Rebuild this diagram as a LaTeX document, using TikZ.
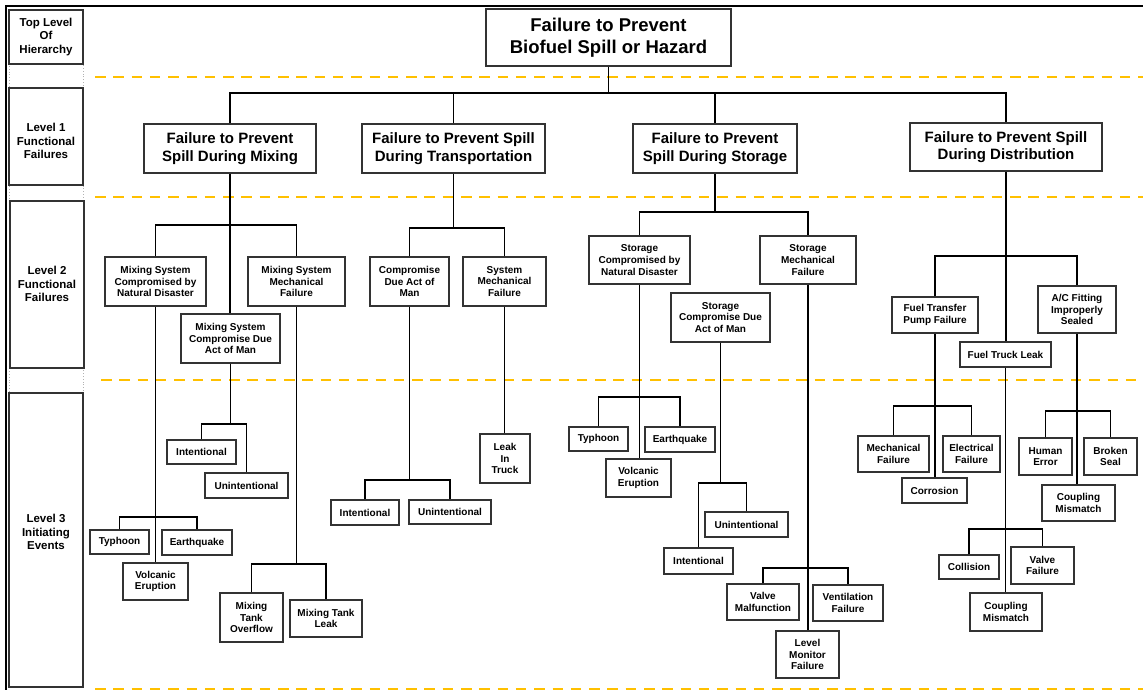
\documentclass[tikz,border=0pt]{standalone}
\usepackage{fontspec}
\setmainfont{Liberation Sans}
\definecolor{gold}{HTML}{FFC000}
\tikzset{
  box/.style={draw=black!80, line width=1.3pt, fill=white, inner sep=0pt, align=center,
    font=\bfseries\fontsize{10}{11.6}\selectfont},
  lonebox/.style={box, font=\bfseries\fontsize{15}{17.5}\selectfont},
  rootbox/.style={box, font=\bfseries\fontsize{18.5}{22.5}\selectfont},
  sidebox/.style={draw=black!80, line width=1.4pt, fill=white, inner sep=0pt},
  sidetext/.style={inner sep=0pt, align=center, font=\bfseries\fontsize{11.5}{13.6}\selectfont},
  conn/.style={draw=black, line width=1.3pt},
  guide/.style={draw=gold, line width=2.7pt, dash pattern=on 10.5pt off 7.8pt},
}
\newcommand\nb[7]{\node[#1, minimum width={#5-#3}, minimum height={#6-#4}] (#2) at ({(#3+#5)/2},{(#4+#6)/2}) {#7};}
\begin{document}
\begin{tikzpicture}[x=1pt,y=-1pt]
\useasboundingbox (0,0) rectangle (1143,690);
% frame
\draw[line width=2pt] (5.5,690) -- (5.5,6.5) -- (1143,6.5);
% guides
\draw[guide] (95,77) -- (1143,77);
\draw[guide] (95,197) -- (1143,197);
\draw[guide] (101,380) -- (1143,380);
\draw[guide] (95,689) -- (1143,689);
% side column
\draw[black!30, dotted, line width=0.8pt] (9,10) rectangle (83,687);
\nb{sidebox}{s0}{9}{10}{83}{64}{}
\nb{sidebox}{s1}{9}{88}{83}{185}{}
\nb{sidebox}{s2}{10}{201}{84}{368}{}
\nb{sidebox}{s3}{9}{393}{83}{687}{}
\node[sidetext] (s0t) at (46,37) {Top Level\\Of\\Hierarchy};
\node[sidetext] (s1t) at (46,141) {Level 1\\Functional\\Failures};
\node[sidetext] (s2t) at (47,284) {Level 2\\Functional\\Failures};
\node[sidetext] (s3t) at (46,532) {Level 3\\Initiating\\Events};
% root and level 1
\nb{rootbox}{root}{486}{9}{731}{66}{Failure to Prevent\\Biofuel Spill or Hazard}
\nb{lonebox}{mix}{144}{124}{316}{173}{Failure to Prevent\\Spill During Mixing}
\nb{lonebox}{trans}{362}{124}{545}{173}{Failure to Prevent Spill\\During Transportation}
\nb{lonebox}{stor}{633}{124}{797}{173}{Failure to Prevent\\Spill During Storage}
\nb{lonebox}{dist}{910}{123}{1102}{171}{Failure to Prevent Spill\\During Distribution}
% mixing subtree
\nb{box}{mixnd}{105}{257}{206}{306}{Mixing System\\Compromised by\\Natural Disaster}
\nb{box}{mixmech}{248}{257}{345}{306}{Mixing System\\Mechanical\\Failure}
\nb{box}{mixman}{181}{314}{280}{363}{Mixing System\\Compromise Due\\Act of Man}
\nb{box}{mty}{90}{530}{149}{554}{Typhoon}
\nb{box}{meq}{162}{530}{232}{555}{Earthquake}
\nb{box}{mvol}{123}{563}{188}{600}{Volcanic\\Eruption}
\nb{box}{mint}{167}{440}{236}{464}{Intentional}
\nb{box}{munint}{205}{473}{288}{498}{Unintentional}
\nb{box}{mover}{220}{593}{283}{642}{Mixing\\Tank\\Overflow}
\nb{box}{mleak}{290}{600}{362}{637}{Mixing Tank\\Leak}
% transportation subtree
\nb{box}{tcom}{370}{257}{449}{306}{Compromise\\Due Act of\\Man}
\nb{box}{tsys}{463}{257}{546}{306}{System\\Mechanical\\Failure}
\nb{box}{tint}{331}{500}{399}{525}{Intentional}
\nb{box}{tunint}{409}{500}{491}{524}{Unintentional}
\nb{box}{tleak}{480}{434}{530}{483}{Leak\\In\\Truck}
% storage subtree
\nb{box}{snd}{589}{236}{690}{284}{Storage\\Compromised by\\Natural Disaster}
\nb{box}{smech}{760}{236}{856}{284}{Storage\\Mechanical\\Failure}
\nb{box}{sman}{671}{293}{770}{342}{Storage\\Compromise Due\\Act of Man}
\nb{box}{sty}{569}{427}{628}{451}{Typhoon}
\nb{box}{seq}{645}{427}{715}{452}{Earthquake}
\nb{box}{svol}{606}{459}{671}{497}{Volcanic\\Eruption}
\nb{box}{sint}{664}{548}{733}{574}{Intentional}
\nb{box}{sunint}{705}{512}{788}{537}{Unintentional}
\nb{box}{svalve}{727}{584}{799}{620}{Valve\\Malfunction}
\nb{box}{svent}{813}{585}{883}{621}{Ventilation\\Failure}
\nb{box}{slevel}{776}{631}{839}{678}{Level\\Monitor\\Failure}
% distribution subtree
\nb{box}{dftp}{892}{297}{978}{333}{Fuel Transfer\\Pump Failure}
\nb{box}{dac}{1038}{286}{1116}{333}{A/C Fitting\\Improperly\\Sealed}
\nb{box}{dftl}{960}{342}{1051}{367}{Fuel Truck Leak}
\nb{box}{dmech}{858}{436}{929}{472}{Mechanical\\Failure}
\nb{box}{delec}{943}{436}{1000}{472}{Electrical\\Failure}
\nb{box}{dcorr}{902}{478}{967}{503}{Corrosion}
\nb{box}{dhum}{1019}{438}{1072}{475}{Human\\Error}
\nb{box}{dbro}{1084}{438}{1137}{475}{Broken\\Seal}
\nb{box}{dcoupa}{1042}{485}{1115}{521}{Coupling\\Mismatch}
\nb{box}{dcoll}{939}{555}{999}{579}{Collision}
\nb{box}{dvalve}{1011}{547}{1074}{584}{Valve\\Failure}
\nb{box}{dcoupb}{970}{593}{1042}{631}{Coupling\\Mismatch}
% bar levels
\coordinate (y0) at (0,93);
\coordinate (ymix) at (0,225);
\coordinate (ymnd) at (0,517);
\coordinate (ymman) at (0,424);
\coordinate (ymmech) at (0,564);
\coordinate (ytr) at (0,228);
\coordinate (ytcom) at (0,480);
\coordinate (yst) at (0,212);
\coordinate (ysnd) at (0,397);
\coordinate (ysman) at (0,483);
\coordinate (ysmech) at (0,568);
\coordinate (ydi) at (0,256);
\coordinate (ydftp) at (0,406);
\coordinate (ydac) at (0,411);
\coordinate (ydftl) at (0,529);
% connectors: root
\draw[conn] (root.south) -- (root.south |- y0);
\draw[conn] (mix.north) -- (mix.north |- y0) -- (dist.north |- y0) -- (dist.north);
\draw[conn] (trans.north) -- (trans.north |- y0);
\draw[conn] (stor.north) -- (stor.north |- y0);
% mixing
\draw[conn] (mix.south) -- (mix.south |- mixman.north);
\draw[conn] (mixnd.north) -- (mixnd.north |- ymix) -- (mixmech.north |- ymix) -- (mixmech.north);
\draw[conn] (mixnd.south) -- (mixnd.south |- mvol.north);
\draw[conn] (mty.north) -- (mty.north |- ymnd) -- (meq.north |- ymnd) -- (meq.north);
\draw[conn] (mixman.south) -- (mixman.south |- ymman);
\draw[conn] (mint.north) -- (mint.north |- ymman) -- (munint.north |- ymman) -- (munint.north);
\draw[conn] (mixmech.south) -- (mixmech.south |- ymmech);
\draw[conn] (mover.north) -- (mover.north |- ymmech) -- (mleak.north |- ymmech) -- (mleak.north);
% transportation
\draw[conn] (trans.south) -- (trans.south |- ytr);
\draw[conn] (tcom.north) -- (tcom.north |- ytr) -- (tsys.north |- ytr) -- (tsys.north);
\draw[conn] (tcom.south) -- (tcom.south |- ytcom);
\draw[conn] (tint.north) -- (tint.north |- ytcom) -- (tunint.north |- ytcom) -- (tunint.north);
\draw[conn] (tsys.south) -- (tsys.south |- tleak.north);
% storage
\draw[conn] (stor.south) -- (stor.south |- yst);
\draw[conn] (snd.north) -- (snd.north |- yst) -- (smech.north |- yst) -- (smech.north);
\draw[conn] (snd.south) -- (snd.south |- svol.north);
\draw[conn] (sty.north) -- (sty.north |- ysnd) -- (seq.north |- ysnd) -- (seq.north);
\draw[conn] (sman.south) -- (sman.south |- ysman);
\draw[conn] (sint.north) -- (sint.north |- ysman) -- (sunint.north |- ysman) -- (sunint.north);
\draw[conn] (smech.south) -- (smech.south |- slevel.north);
\draw[conn] (svalve.north) -- (svalve.north |- ysmech) -- (svent.north |- ysmech) -- (svent.north);
% distribution
\draw[conn] (dist.south) -- (dist.south |- dftl.north);
\draw[conn] (dftp.north) -- (dftp.north |- ydi) -- (dac.north |- ydi) -- (dac.north);
\draw[conn] (dftp.south) -- (dftp.south |- dcorr.north);
\draw[conn] (dmech.north) -- (dmech.north |- ydftp) -- (delec.north |- ydftp) -- (delec.north);
\draw[conn] (dac.south) -- (dac.south |- dcoupa.north);
\draw[conn] (dhum.north) -- (dhum.north |- ydac) -- (dbro.north |- ydac) -- (dbro.north);
\draw[conn] (dftl.south) -- (dftl.south |- dcoupb.north);
\draw[conn] (dcoll.north) -- (dcoll.north |- ydftl) -- (dvalve.north |- ydftl) -- (dvalve.north);
\end{tikzpicture}
\end{document}
